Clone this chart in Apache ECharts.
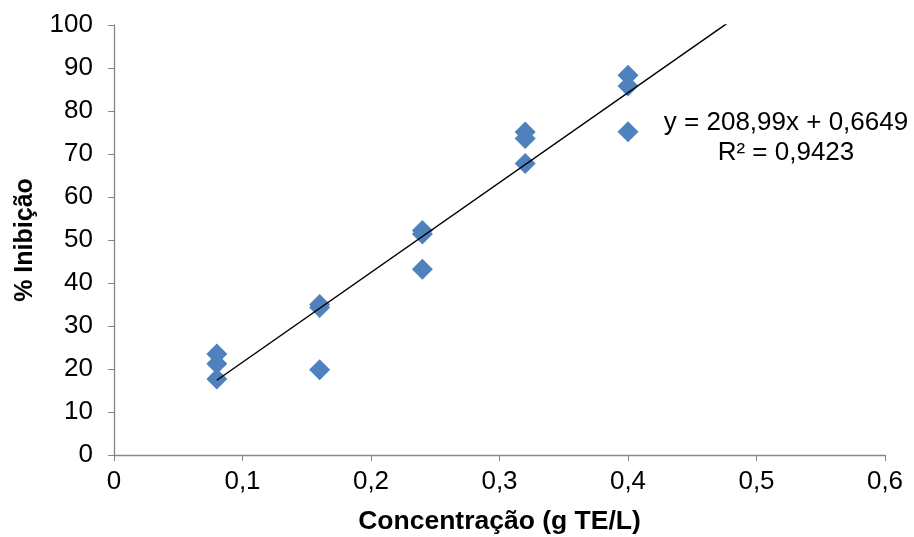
<!DOCTYPE html>
<html><head><meta charset="utf-8">
<script src="https://cdn.jsdelivr.net/npm/echarts@6/dist/echarts.min.js"></script>
<style>html,body{margin:0;padding:0;background:#fff}#c{width:914px;height:537px}</style>
</head><body><div id="c"></div>
<script>
const concentrations = [0.08,0.08,0.08,0.16,0.16,0.16,0.24,0.24,0.24,0.32,0.32,0.32,0.40,0.40,0.40];
const inhibition = [23.5,21.2,17.7,35.0,34.3,19.8,52.2,51.4,43.2,75.1,73.6,67.8,88.3,85.8,75.2];
const slope = 208.99, intercept = 0.6649;
const trendX = [0.08, 0.48];
const xTicks = ['0','0,1','0,2','0,3','0,4','0,5','0,6'];
const eqText = 'y = 208,99x + 0,6649';
const r2Text = 'R² = 0,9423';

const scatterData = concentrations.map((x,i)=>[x, inhibition[i]]);
const trendData = trendX.map(x=>[x, slope*x+intercept]);

const chart = echarts.init(document.getElementById('c'));
const font = 'Liberation Sans, Arial, sans-serif';
chart.setOption({
  animation:false,
  grid:{left:114,right:29,top:25,bottom:82,containLabel:false,outerBoundsMode:'none'},
  xAxis:{type:'value',min:0,max:0.6,interval:0.1,
    name:'Concentração (g TE/L)',nameLocation:'middle',nameGap:53,
    nameTextStyle:{fontFamily:font,fontSize:26.5,fontWeight:'bold',color:'#000'},
    axisLine:{lineStyle:{color:'#868686',width:1.3}},
    axisTick:{show:true,length:6,lineStyle:{color:'#868686'}},
    axisLabel:{fontFamily:font,fontSize:26,color:'#000',margin:14,
      formatter:v=>xTicks[Math.round(v*10)]},
    splitLine:{show:false}},
  yAxis:{type:'value',min:0,max:100,interval:10,
    name:'% Inibição',nameLocation:'middle',nameGap:76,
    nameTextStyle:{fontFamily:font,fontSize:25,fontWeight:'bold',color:'#000'},
    axisLine:{show:true,lineStyle:{color:'#868686',width:1.3}},
    axisTick:{show:true,length:6,lineStyle:{color:'#868686'}},
    axisLabel:{fontFamily:font,fontSize:26,color:'#000',margin:21},
    splitLine:{show:false}},
  series:[
    {type:'scatter',data:scatterData,symbol:'diamond',symbolSize:21,
      itemStyle:{color:'#4f81bd',opacity:1},z:2},
    {type:'line',data:trendData,showSymbol:false,clip:true,
      lineStyle:{color:'#000',width:1.5},z:3}
  ],
  graphic:[
    {type:'text',x:786,y:123,style:{text:eqText,font:'26px '+font,fill:'#000',textAlign:'center',textVerticalAlign:'middle'}},
    {type:'text',x:786,y:153,style:{text:r2Text,font:'26px '+font,fill:'#000',textAlign:'center',textVerticalAlign:'middle'}}
  ]
});
</script></body></html>
